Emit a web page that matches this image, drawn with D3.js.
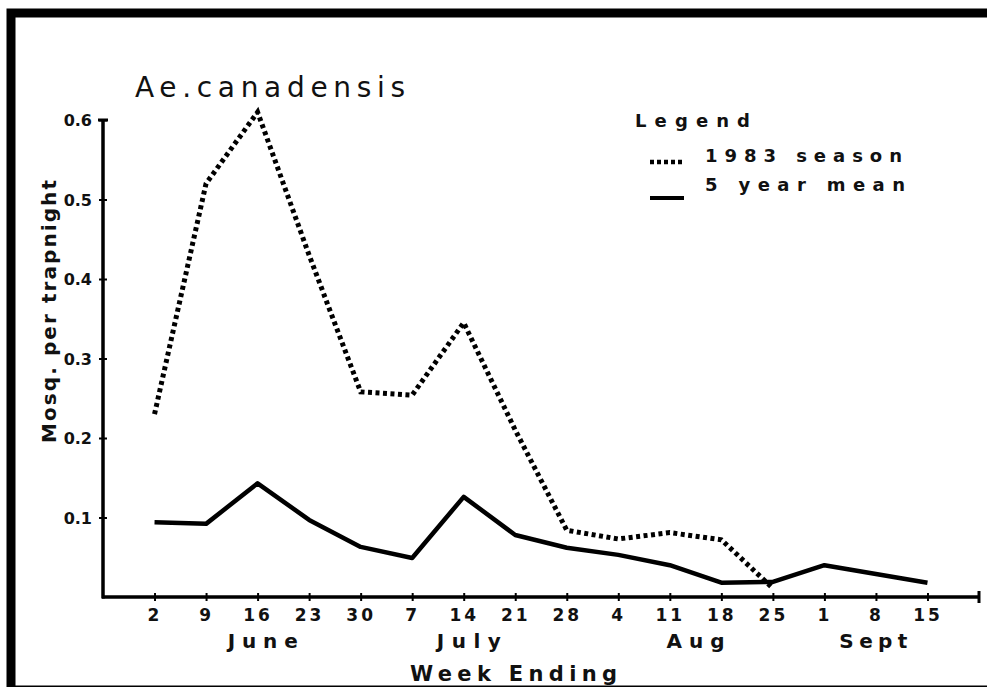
<!DOCTYPE html>
<html>
<head>
<meta charset="utf-8">
<script src="https://cdn.jsdelivr.net/npm/d3@7"></script>
<style>
  body { margin: 0; background: #fff; }
  svg text { font-family: "DejaVu Sans", sans-serif; fill: #111; }
</style>
</head>
<body>
<div id="chart"></div>
<script>
// week ending labels, June 2 .. Sept 15
var weekLabels = ["2", "9", "16", "23", "30", "7", "14", "21", "28", "4", "11", "18", "25", "1", "8", "15"];
var months = ["June", "July", "Aug", "Sept"];
var monthCenters = [2.1, 6.1, 10.5, 13.95];
var monthWidths = [70, 64, 58, 68];

// 1983 season (dotted), stops at Aug 25
var season1983 = [0.23, 0.52, 0.61, 0.43, 0.258, 0.254, 0.345, 0.21, 0.084, 0.073, 0.081, 0.072, 0.011];
// 5 year mean (solid)
var fiveYearMean = [0.094, 0.092, 0.143, 0.097, 0.063, 0.049, 0.126, 0.078, 0.062, 0.053, 0.04, 0.018, 0.019, 0.04, 0.029, 0.018];

var yTicks = [0.1, 0.2, 0.3, 0.4, 0.5, 0.6];

var W = 987, H = 687;
var svg = d3.select("#chart").append("svg")
        .attr("width", W)
        .attr("height", H);

// frame
svg.append("rect")
        .attr("x", 11).attr("y", 13)
        .attr("width", 1000).attr("height", 677)
        .attr("fill", "none")
        .attr("stroke", "#000")
        .attr("stroke-width", 9);

var x = d3.scaleLinear().domain([-1, 16]).range([103, 979]);
var y = d3.scaleLinear().domain([0, 0.6]).range([597, 120]);

// x axis
var xAxis = d3.axisBottom(x)
        .tickValues(d3.range(weekLabels.length))
        .tickFormat(function(d) { return weekLabels[d]; })
        .tickSizeOuter(0);

var gx = svg.append("g")
        .attr("transform", "translate(0," + y(0) + ")")
        .call(xAxis);
gx.select(".domain").attr("stroke-width", 3.5).attr("d", "M" + (x(-1) - 1) + ",0H" + x(16));
gx.selectAll(".tick line").attr("y1", -4).attr("y2", 4).attr("stroke-width", 2);
gx.selectAll(".tick text")
        .attr("y", 24)
        .attr("dy", 0)
        .style("font-size", "17px")
        .style("font-weight", "bold")
        .style("letter-spacing", "3px");
gx.append("line")
        .attr("x1", x(16)).attr("x2", x(16))
        .attr("y1", -6).attr("y2", 6)
        .attr("stroke", "#000").attr("stroke-width", 3);

// y axis
var yAxis = d3.axisLeft(y)
        .tickValues(yTicks)
        .tickFormat(d3.format(".1f"))
        .tickSizeOuter(0)
        .tickPadding(5);

var gy = svg.append("g")
        .attr("transform", "translate(" + x(-1) + ",0)")
        .call(yAxis);
gy.select(".domain").attr("stroke-width", 3.5).attr("d", "M0," + y(0.6) + "V" + (y(0) + 1.5));
gy.selectAll(".tick line").attr("x1", -4).attr("x2", 4).attr("stroke-width", 2);
gy.selectAll(".tick text")
        .attr("dy", "0.35em")
        .style("font-size", "16px")
        .style("font-weight", "bold");
gy.append("line")
        .attr("x1", -5).attr("x2", 5)
        .attr("y1", y(0.6)).attr("y2", y(0.6))
        .attr("stroke", "#000").attr("stroke-width", 3);

// series
var line = d3.line()
        .x(function(d, i) { return x(i); })
        .y(function(d) { return y(d); });

svg.append("path")
        .datum(fiveYearMean)
        .attr("d", line)
        .attr("fill", "none")
        .attr("stroke", "#000")
        .attr("stroke-width", 4.5)
        .attr("stroke-linejoin", "round");

svg.append("path")
        .datum(season1983)
        .attr("d", line)
        .attr("fill", "none")
        .attr("stroke", "#000")
        .attr("stroke-width", 5)
        .attr("stroke-dasharray", "4,3.5");

// month labels
svg.selectAll("text.month")
        .data(months)
        .enter().append("text")
        .attr("class", "month")
        .attr("x", function(d, i) { return x(monthCenters[i]) - monthWidths[i] / 2; })
        .attr("y", 648)
        .attr("textLength", function(d, i) { return monthWidths[i]; })
        .attr("lengthAdjust", "spacing")
        .style("font-size", "20px")
        .style("font-weight", "bold")
        .text(function(d) { return d; });

svg.append("text")
        .attr("x", 410).attr("y", 681)
        .attr("textLength", 207)
        .attr("lengthAdjust", "spacing")
        .style("font-size", "21px")
        .style("font-weight", "bold")
        .text("Week Ending");

// y title
svg.append("text")
        .attr("transform", "translate(56,443) rotate(-90)")
        .attr("textLength", 263)
        .attr("lengthAdjust", "spacing")
        .style("font-size", "20px")
        .style("font-weight", "bold")
        .text("Mosq. per trapnight");

// chart title
svg.append("text")
        .attr("x", 135).attr("y", 97)
        .attr("textLength", 270)
        .attr("lengthAdjust", "spacing")
        .style("font-size", "28px")
        .text("Ae.canadensis");

// legend
svg.append("text")
        .attr("x", 635).attr("y", 127)
        .attr("textLength", 115)
        .attr("lengthAdjust", "spacing")
        .style("font-size", "18px")
        .style("font-weight", "bold")
        .text("Legend");

var legendItems = [
    {name: "1983 season", dash: "4,3", width: 4.5, ly: 162, ty: 162, len: 197},
    {name: "5 year mean", dash: null, width: 4, ly: 198, ty: 191, len: 200}
];
legendItems.forEach(function(d) {
    svg.append("line")
            .attr("x1", 650).attr("x2", 684)
            .attr("y1", d.ly).attr("y2", d.ly)
            .attr("stroke", "#000")
            .attr("stroke-width", d.width)
            .attr("stroke-dasharray", d.dash);
    svg.append("text")
            .attr("x", 705).attr("y", d.ty)
            .attr("textLength", d.len)
            .attr("lengthAdjust", "spacing")
            .style("font-size", "18px")
            .style("font-weight", "bold")
            .text(d.name);
});
</script>
</body>
</html>
